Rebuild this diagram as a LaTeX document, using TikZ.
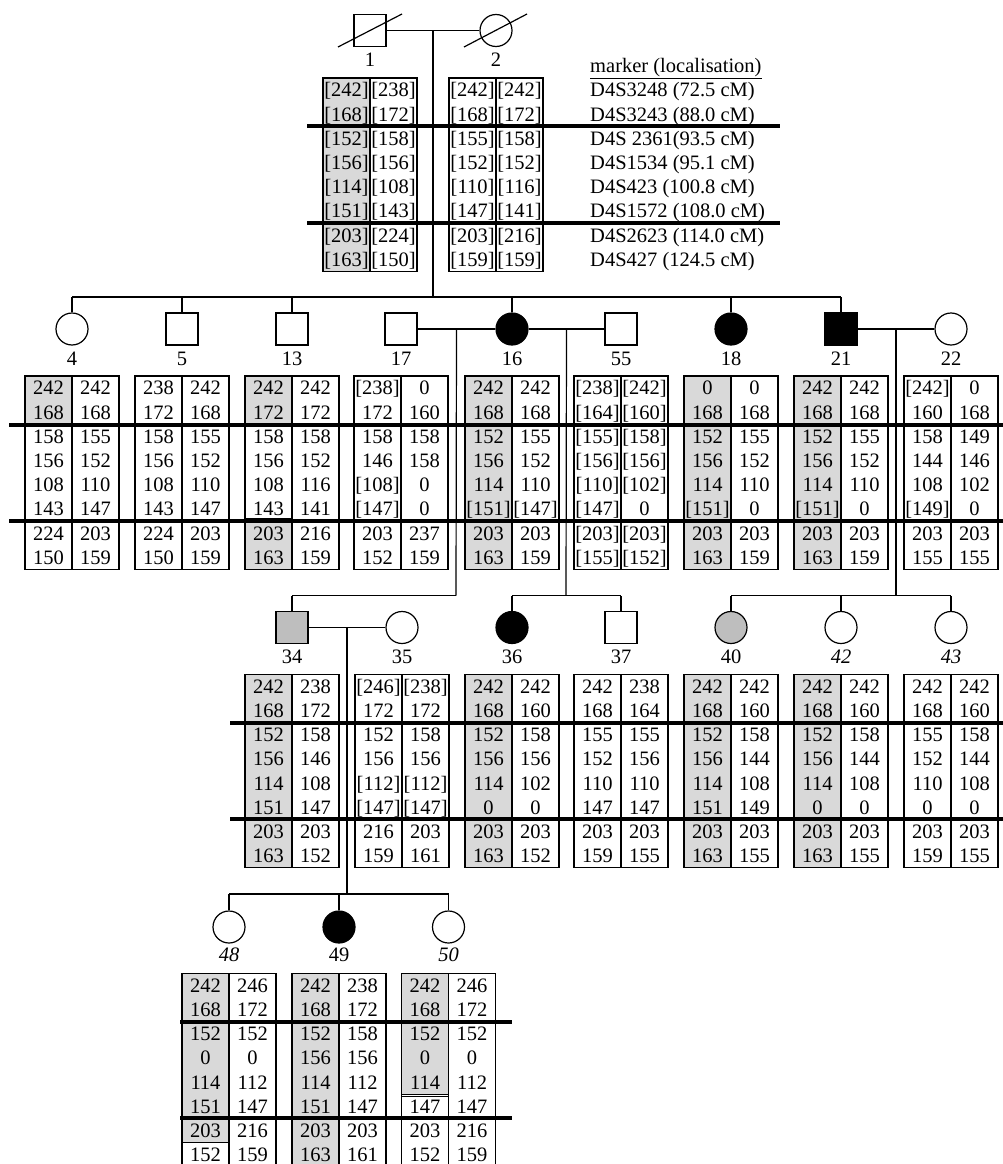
\documentclass[tikz,border=0pt]{standalone}
\usepackage{fontspec}
\setmainfont{Liberation Serif}
\usetikzlibrary{calc}
\definecolor{symgray}{RGB}{190,190,190}
\definecolor{hapgray}{RGB}{217,217,217}
\newcommand{\hapbox}[5]{%
  \draw[boxline] (#2-47,#3) rectangle (#2,#3+193.6);
  \draw[boxline] (#2,#3) rectangle (#2+47,#3+193.6);
  \foreach \v [count=\i from 0] in {#4} \node[val] (#1L\i) at (#2-23.5,#3+18.9+24.2*\i) {\v};
  \foreach \v [count=\i from 0] in {#5} \node[val] (#1R\i) at (#2+23.5,#3+18.9+24.2*\i) {\v};
}
% shaded part of left column: #1 cx, #2 top, #3 from row, #4 to row (exclusive)
\newcommand{\hapshade}[4]{%
  \filldraw[hapfill] (#1-47,#2+24.2*#3) rectangle (#1,#2+24.2*#4);
}
\begin{document}
\begin{tikzpicture}[x=1pt,y=-1pt,
  every node/.style={font=\fontsize{20.5}{24}\selectfont},
  male/.style={draw, line width=1.2pt, rectangle, minimum size=32pt, inner sep=0pt},
  female/.style={draw, line width=1.2pt, circle, minimum size=32pt, inner sep=0pt},
  aff/.style={fill=black},
  carr/.style={fill=symgray},
  conn/.style={line width=1.2pt},
  boxline/.style={line width=1.1pt},
  hapfill/.style={fill=hapgray, draw=black, line width=1.1pt},
  val/.style={anchor=base, inner sep=0pt},
  plabel/.style={anchor=base, inner sep=0pt},
  mk/.style={anchor=base west, inner sep=0pt},
  thickline/.style={line width=4pt}]
\useasboundingbox (0,0) rectangle (1003,1164);
\clip (0,0) rectangle (1003,1164);

% ---------------- Generation I ----------------
\node[male] (p1) at (370,30.5) {};
\node[female] (p2) at (496,30.5) {};
\draw[conn] ($(p1)+(-32,16.5)$) -- ($(p1)+(32,-16.5)$);
\draw[conn] ($(p2)+(-32,16.5)$) -- ($(p2)+(31,-16.5)$);
\node[plabel] (l1) at (370,66.8) {1};
\node[plabel] (l2) at (496,66.8) {2};
\draw[conn] (p1.east) -- (p2.west);
\coordinate (m12) at ($(p1)!0.5!(p2)$);
\coordinate (s12) at (433,297);

\hapshade{370}{78}{0}{8}
\hapbox{h1}{370}{78}{[242],[168],[152],[156],[114],[151],[203],[163]}{[238],[172],[158],[156],[108],[143],[224],[150]}
\hapbox{h2}{496}{78}{[242],[168],[155],[152],[110],[147],[203],[159]}{[242],[172],[158],[152],[116],[141],[216],[159]}

\node[mk] (mh) at (590,72.7) {\underline{marker (localisation)}};
\foreach \t [count=\i from 0] in {D4S3248 (72.5 cM),D4S3243 (88.0 cM),D4S 2361(93.5 cM),D4S1534 (95.1 cM),D4S423 (100.8 cM),D4S1572 (108.0 cM),D4S2623 (114.0 cM),D4S427 (124.5 cM)}
  \node[mk] (mk\i) at (590,96.9+24.2*\i) {\t};

\draw[thickline] (307,126.4) -- (780,126.4);
\draw[thickline] (307,223.2) -- (780,223.2);

% ---------------- Generation II ----------------
\node[female] (p4) at (72,329) {};
\node[male] (p5) at (182,329) {};
\node[male] (p13) at (292,329) {};
\node[male] (p17) at (401,329) {};
\node[female,aff] (p16) at (512,329) {};
\node[male] (p55) at (621,329) {};
\node[female,aff] (p18) at (731,329) {};
\node[male,aff] (p21) at (841,329) {};
\node[female] (p22) at (951,329) {};
\foreach \n/\x in {4/72,5/182,13/292,17/401,16/512,55/621,18/731,21/841,22/951}
  \node[plabel] (l\n) at (\x,365) {\n};

\draw[conn] (m12) -- (s12);
\draw[conn] (p4.north |- s12) -- (p21.north |- s12);
\foreach \n in {4,5,13,16,18,21}
  \draw[conn] (p\n.north) -- (p\n.north |- s12);

\draw[conn] (p17.east) -- (p16.west);
\draw[conn] (p16.east) -- (p55.west);
\draw[conn] (p21.east) -- (p22.west);
\coordinate (m1716) at ($(p17)!0.5!(p16)$);
\coordinate (m1655) at ($(p16)!0.5!(p55)$);
\coordinate (m2122) at ($(p21)!0.5!(p22)$);

\hapshade{72}{376}{0}{2}
\hapshade{292}{376}{0}{2}
\draw[boxline] (292-47,376+48.4) rectangle (292,376+142.5);
\filldraw[hapfill] (292-47,376+142.5) rectangle (292,376+193.6);
\hapshade{512}{376}{0}{8}
\hapshade{731}{376}{0}{8}
\hapshade{841}{376}{0}{8}

\hapbox{h4}{72}{376}{242,168,158,156,108,143,224,150}{242,168,155,152,110,147,203,159}
\hapbox{h5}{182}{376}{238,172,158,156,108,143,224,150}{242,168,155,152,110,147,203,159}
\hapbox{h13}{292}{376}{242,172,158,156,108,143,203,163}{242,172,158,152,116,141,216,159}
\hapbox{h17}{401}{376}{[238],172,158,146,[108],[147],203,152}{0,160,158,158,0,0,237,159}
\hapbox{h16}{512}{376}{242,168,152,156,114,[151],203,163}{242,168,155,152,110,[147],203,159}
\hapbox{h55}{621}{376}{[238],[164],[155],[156],[110],[147],[203],[155]}{[242],[160],[158],[156],[102],0,[203],[152]}
\hapbox{h18}{731}{376}{0,168,152,156,114,[151],203,163}{0,168,155,152,110,0,203,159}
\hapbox{h21}{841}{376}{242,168,152,156,114,[151],203,163}{242,168,155,152,110,0,203,159}
\hapbox{h22}{951}{376}{[242],160,158,144,108,[149],203,155}{0,168,149,146,102,0,203,155}

\draw[thickline] (9,424.8) -- (1003,424.8);
\draw[thickline] (9,521) -- (1003,521);

% ---------------- Generation III ----------------
\coordinate (s1716) at (456,595.5);
\coordinate (s1655) at (566,595.5);
\coordinate (s2122) at (896,595.5);
\node[male,carr] (p34) at (292,627.5) {};
\node[female] (p35) at (402,627.5) {};
\node[female,aff] (p36) at (512,627.5) {};
\node[male] (p37) at (621,627.5) {};
\node[female,carr] (p40) at (731,627.5) {};
\node[female] (p42) at (841,627.5) {};
\node[female] (p43) at (951,627.5) {};
\foreach \n/\x in {34/292,35/402,36/512,37/621,40/731}
  \node[plabel] (l\n) at (\x,663.5) {\n};
\node[plabel] (l42) at (841,663.5) {\textit{42}};
\node[plabel] (l43) at (951,663.5) {\textit{43}};

\draw[conn] (m1716) -- (s1716);
\draw[conn] (p34.north |- s1716) -- (s1716);
\draw[conn] (p34.north) -- (p34.north |- s1716);
\draw[conn] (m1655) -- (s1655);
\draw[conn] (p36.north |- s1655) -- (p37.north |- s1655);
\draw[conn] (p36.north) -- (p36.north |- s1655);
\draw[conn] (p37.north) -- (p37.north |- s1655);
\draw[conn] (m2122) -- (s2122);
\draw[conn] (p40.north |- s2122) -- (p43.north |- s2122);
\foreach \n in {40,42,43}
  \draw[conn] (p\n.north) -- (p\n.north |- s2122);

\draw[conn] (p34.east) -- (p35.west);
\coordinate (m3435) at ($(p34)!0.5!(p35)$);

\hapshade{292}{674.3}{0}{8}
\hapshade{512}{674.3}{0}{8}
\hapshade{731}{674.3}{0}{8}
\hapshade{841}{674.3}{0}{8}

\hapbox{h34}{292}{674.3}{242,168,152,156,114,151,203,163}{238,172,158,146,108,147,203,152}
\hapbox{h35}{402}{674.3}{[246],172,152,156,[112],[147],216,159}{[238],172,158,156,[112],[147],203,161}
\hapbox{h36}{512}{674.3}{242,168,152,156,114,0,203,163}{242,160,158,156,102,0,203,152}
\hapbox{h37}{621}{674.3}{242,168,155,152,110,147,203,159}{238,164,155,156,110,147,203,155}
\hapbox{h40}{731}{674.3}{242,168,152,156,114,151,203,163}{242,160,158,144,108,149,203,155}
\hapbox{h42}{841}{674.3}{242,168,152,156,114,0,203,163}{242,160,158,144,108,0,203,155}
\hapbox{h43}{951}{674.3}{242,168,155,152,110,0,203,159}{242,160,158,144,108,0,203,155}

\draw[thickline] (230,722.9) -- (1003,722.9);
\draw[thickline] (230,819.3) -- (1003,819.3);

% ---------------- Generation IV ----------------
\coordinate (s3435) at (347,894);
\node[female] (p48) at (229,927) {};
\node[female,aff] (p49) at (339,927) {};
\node[female] (p50) at (448.5,927) {};
\node[plabel] (l48) at (229,961.8) {\textit{48}};
\node[plabel] (l49) at (339,961.8) {49};
\node[plabel] (l50) at (448.5,961.8) {\textit{50}};

\draw[conn] (m3435) -- (s3435);
\draw[conn] (p48.north |- s3435) -- (p50.north |- s3435);
\foreach \n in {48,49,50}
  \draw[conn] (p\n.north) -- (p\n.north |- s3435);

\hapshade{229}{973.3}{0}{7}
\hapshade{339}{973.3}{0}{8}
\hapshade{448.5}{973.3}{0}{5}
\draw[boxline] (448.5-47,973.3+123) rectangle (448.5,973.3+193.6);

\hapbox{h48}{229}{973.3}{242,168,152,0,114,151,203,152}{246,172,152,0,112,147,216,159}
\hapbox{h49}{339}{973.3}{242,168,152,156,114,151,203,163}{238,172,158,156,112,147,203,161}
\hapbox{h50}{448.5}{973.3}{242,168,152,0,114,147,203,152}{246,172,152,0,112,147,216,159}

\draw[thickline] (180,1022) -- (512,1022);
\draw[thickline] (180,1118) -- (512,1118);
\end{tikzpicture}
\end{document}
